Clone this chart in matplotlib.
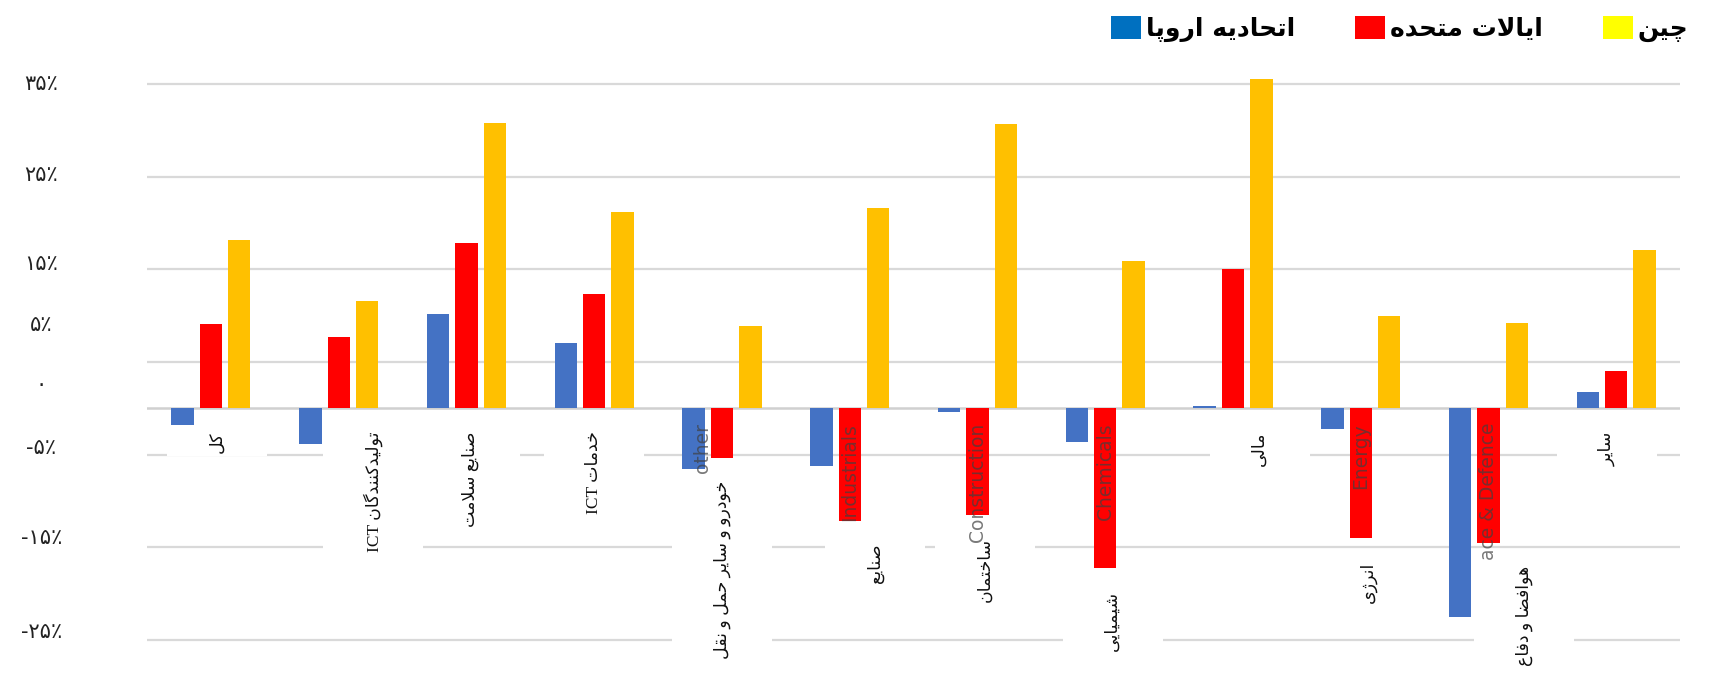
import matplotlib
matplotlib.use('Agg')
import matplotlib.pyplot as plt
import numpy as np
from matplotlib.patches import Patch, Rectangle

# category labels, left to right
categories = ['کل', 'تولیدکنندگان ICT', 'صنایع سلامت', 'خدمات ICT',
              'خودرو و سایر حمل و نقل', 'صنایع', 'ساختمان', 'شیمیایی',
              'مالی', 'انرژی', 'هوافضا و دفاع', 'سایر']
# growth, percent
eu = [-1.8, -3.8, 10.2, 7.1, -6.5, -6.2, -0.4, -3.6, 0.3, -2.2, -22.5, 1.75]
us = [9.1, 7.7, 17.8, 12.3, -5.3, -12.1, -11.5, -17.2, 15.0, -14.0, -14.5, 4.05]
china = [18.2, 11.6, 30.8, 21.2, 8.9, 21.6, 30.7, 15.9, 35.5, 10.0, 9.2, 17.1]
series_names = ['اتحادیه اروپا', 'ایالات متحده', 'چین']
# english leftovers of the source chart, drawn faint over the bars
eng_labels = ['', '', '', '', 'other', 'Industrials', 'Construction', 'Chemicals',
              '', 'Energy', 'ace & Defence', '']
ytick_text = ['۳۵٪', '۲۵٪', '۱۵٪', '۵٪', '۰', '-۵٪', '-۱۵٪', '-۲۵٪']
grid_vals = [35, 25, 15, 5, -5, -15, -25]

# layout tweaks (not data)
ytick_pos = [35.2, 25.4, 15.8, 9.2, 2.75, -4.1, -13.8, -23.9]
label_dx = [0.05, 0.27, 0.03, 0.0, 0.0, 0.2, 0.06, 0.06, 0.21, 0.06, 0.28, -0.07]
eng_dx = [0, 0, 0, 0, -0.15, 0, 0, 0, 0, 0, 0, 0]

bar_colors = ['#4472C4', '#FF0000', '#FFC000']
legend_colors = ['#0070C0', '#FF0000', '#FFFF00']

# --- tiny persian shaper: matplotlib does no joining / bidi ---
FORMS = {
    'ا': (0xFE8D, 0xFE8E, None, None),
    'ب': (0xFE8F, 0xFE90, 0xFE91, 0xFE92),
    'پ': (0xFB56, 0xFB57, 0xFB58, 0xFB59),
    'ت': (0xFE95, 0xFE96, 0xFE97, 0xFE98),
    'چ': (0xFB7A, 0xFB7B, 0xFB7C, 0xFB7D),
    'ح': (0xFEA1, 0xFEA2, 0xFEA3, 0xFEA4),
    'خ': (0xFEA5, 0xFEA6, 0xFEA7, 0xFEA8),
    'د': (0xFEA9, 0xFEAA, None, None),
    'ر': (0xFEAD, 0xFEAE, None, None),
    'ز': (0xFEAF, 0xFEB0, None, None),
    'ژ': (0xFB8A, 0xFB8B, None, None),
    'س': (0xFEB1, 0xFEB2, 0xFEB3, 0xFEB4),
    'ش': (0xFEB5, 0xFEB6, 0xFEB7, 0xFEB8),
    'ص': (0xFEB9, 0xFEBA, 0xFEBB, 0xFEBC),
    'ض': (0xFEBD, 0xFEBE, 0xFEBF, 0xFEC0),
    'ع': (0xFEC9, 0xFECA, 0xFECB, 0xFECC),
    'ف': (0xFED1, 0xFED2, 0xFED3, 0xFED4),
    'ق': (0xFED5, 0xFED6, 0xFED7, 0xFED8),
    'ک': (0xFB8E, 0xFB8F, 0xFB90, 0xFB91),
    'گ': (0xFB92, 0xFB93, 0xFB94, 0xFB95),
    'ل': (0xFEDD, 0xFEDE, 0xFEDF, 0xFEE0),
    'م': (0xFEE1, 0xFEE2, 0xFEE3, 0xFEE4),
    'ن': (0xFEE5, 0xFEE6, 0xFEE7, 0xFEE8),
    'ه': (0xFEE9, 0xFEEA, 0xFEEB, 0xFEEC),
    'و': (0xFEED, 0xFEEE, None, None),
    'ی': (0xFBFC, 0xFBFD, 0xFBFE, 0xFBFF),
}


def shape_word(w):
    out = []
    i = 0
    while i < len(w):
        c = w[i]
        if c not in FORMS:
            out.append(c)
            i += 1
            continue
        prev = w[i - 1] if i > 0 else ''
        joins_prev = prev in FORMS and FORMS[prev][2] is not None
        if c == 'ل' and i + 1 < len(w) and w[i + 1] == 'ا':
            out.append(chr(0xFEFC if joins_prev else 0xFEFB))
            i += 2
            continue
        nxt = w[i + 1] if i + 1 < len(w) else ''
        joins_next = FORMS[c][2] is not None and nxt in FORMS
        iso, fin, ini, med = FORMS[c]
        if joins_prev and joins_next:
            out.append(chr(med))
        elif joins_prev:
            out.append(chr(fin))
        elif joins_next:
            out.append(chr(ini))
        else:
            out.append(chr(iso))
        i += 1
    return ''.join(out)


def fa(text):
    words = text.split(' ')
    vis = []
    for w in reversed(words):
        if any(ch in FORMS for ch in w):
            vis.append(shape_word(w)[::-1])
        else:
            vis.append(w)
    return ' '.join(vis)


plt.rcParams['font.family'] = ['DejaVu Sans']

fig = plt.figure(figsize=(17.16, 6.87), dpi=100)
ax = fig.add_axes([0.0857, 0.0277, 0.8934, 0.877])

x = np.arange(len(categories))
off = 0.222
w = 0.175
for k, vals in enumerate([eu, us, china]):
    ax.bar(x + (k - 1) * off, vals, width=w, color=bar_colors[k], zorder=2)

for g in grid_vals:
    ax.axhline(g, color='#d9d9d9', lw=1.6, zorder=0)
ax.axhline(0, color='#d0d0d0', lw=1.8, zorder=0.5)

ax.set_xlim(-0.5, len(categories) - 0.5)
ax.set_ylim(-28, 37)
for s in ax.spines.values():
    s.set_visible(False)
ax.set_xticks([])
ax.set_yticks(ytick_pos, ytick_text)
ax.tick_params(axis='y', length=0, pad=76, labelsize=15, labelcolor='#222222')
for lab in ax.get_yticklabels():
    lab.set_ha('center')

# category labels below the bars
cat_texts = []
for i, name in enumerate(categories):
    ytop = min(0, us[i]) - 2.5
    t = ax.text(i + label_dx[i], ytop, fa(name), rotation=90, ha='center', va='top',
                fontsize=12.5, family=['Liberation Serif', 'DejaVu Sans'],
                color='#111111', zorder=3, clip_on=False)
    cat_texts.append(t)

for i, name in enumerate(eng_labels):
    if name:
        ax.text(i + eng_dx[i], -1.56, name, rotation=90, ha='center', va='top',
                fontsize=13.5, family=['Liberation Sans Narrow', 'DejaVu Sans'],
                color='#404040', alpha=0.7, zorder=3)

# white boxes behind the labels break the gridlines, like in the source
fig.canvas.draw()
r = fig.canvas.get_renderer()
inv = ax.transData.inverted()
for t in cat_texts:
    bb = t.get_window_extent(r)
    cx = (bb.x0 + bb.x1) / 2
    (x0, y0) = inv.transform((cx - 50, bb.y0 - 3))
    (x1, y1) = inv.transform((cx + 50, bb.y1 + 3))
    ax.add_patch(Rectangle((x0, y0), x1 - x0, y1 - y0, facecolor='white',
                           edgecolor='none', zorder=1, clip_on=False))

handles = [Patch(facecolor=c) for c in legend_colors]
fig.legend(handles, [fa(n) for n in series_names], ncol=3, loc='upper right',
           bbox_to_anchor=(0.997, 1.01), frameon=False, handlelength=1.2,
           handleheight=1.05, handletextpad=0.2, columnspacing=2.4,
           prop={'weight': 'bold', 'size': 18})

fig.savefig('out.png', dpi=100)
